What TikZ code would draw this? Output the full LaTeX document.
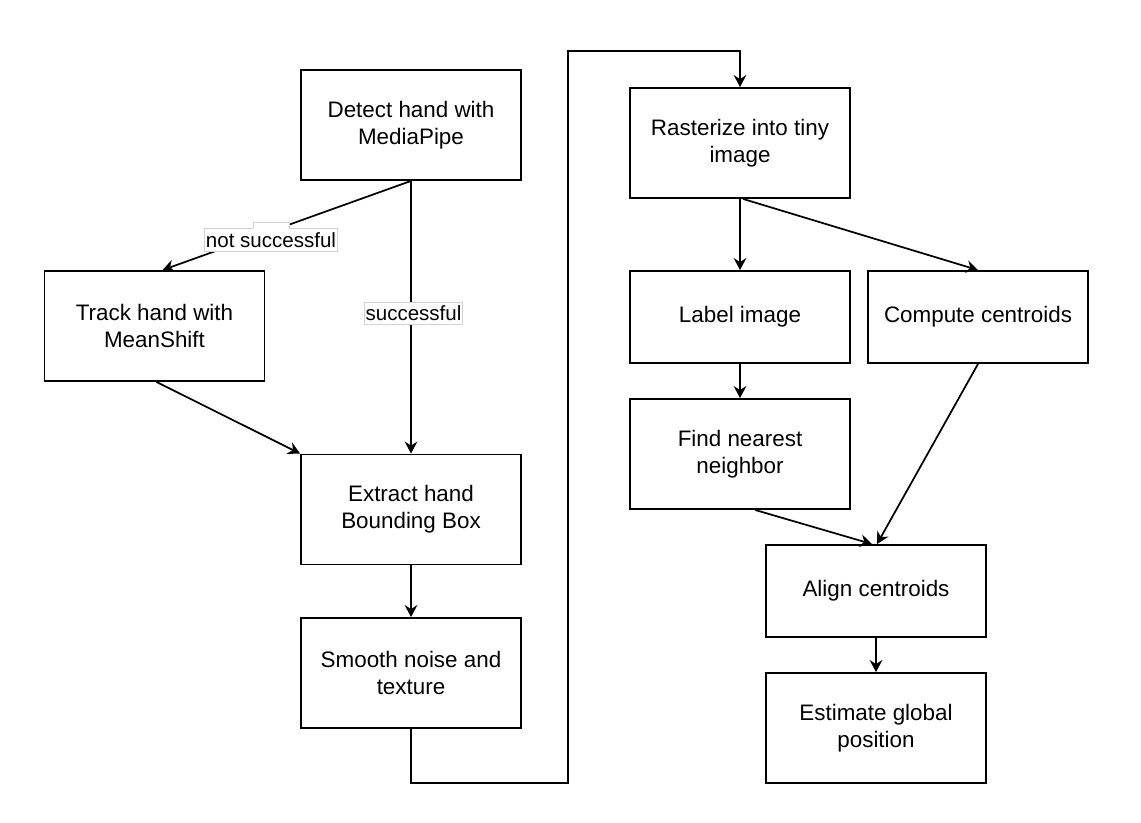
\documentclass[tikz,border=0pt]{standalone}
\usepackage{fontspec}
\setmainfont{Liberation Sans}
\usetikzlibrary{arrows.meta,calc}
\begin{document}
\begin{tikzpicture}[x=0.75pt,y=-0.75pt,
  box/.style={draw=black, line width=1.4pt, fill=white, minimum width=165pt, minimum height=82.5pt,
    align=center, inner sep=2pt, font=\fontsize{16.8}{20.5}\selectfont},
  sbox/.style={box, minimum height=69pt},
  arr/.style={draw=black, line width=1.3pt, -{Stealth[length=9pt,width=9.5pt,inset=3pt]}},
  lab/.style={fill=white, draw=gray!35, line width=0.6pt, inner sep=1pt, minimum height=17pt,
    font=\fontsize{15.4}{18}\selectfont}]
\useasboundingbox (0,0) rectangle (1141,823);

\node[box] (detect) at (411,125) {Detect hand with\\MediaPipe};
\node[box] (track) at (154.5,326) {Track hand with\\MeanShift};
\node[box] (extract) at (411,509.5) {Extract hand\\Bounding Box};
\node[box] (smooth) at (411,673) {Smooth noise and\\texture};
\node[box] (raster) at (740,143) {Rasterize into tiny\\image};
\node[sbox] (labelimg) at (740,317) {Label image};
\node[sbox] (compute) at (978,317) {Compute centroids};
\node[box] (nearest) at (740,454) {Find nearest\\neighbor};
\node[sbox] (align) at (876,591) {Align centroids};
\node[box] (estimate) at (876,728) {Estimate global\\position};

\coordinate (c1) at (568,783);
\coordinate (c2) at (568,51);

% edges
\draw[arr] (detect.south) -- ($(track.north)+(8,0)$);
\draw[arr] (detect.south) -- (extract.north);
\draw[arr] ($(track.south)+(2,0)$) -- (extract.north west);
\draw[arr] (extract.south) -- (smooth.north);
\draw[arr] (smooth.south) |- (c1) -- (c2) -| (raster.north);
\draw[arr] (raster.south) -- (labelimg.north);
\draw[arr] ($(raster.south)+(3,0)$) -- (compute.north);
\draw[arr] (labelimg.south) -- (nearest.north);
\draw[arr] ($(nearest.south)+(15,0)$) -- ($(align.north)+(-4,0)$);
\draw[arr] (compute.south) -- ($(align.north)+(1,0)$);
\draw[arr] (align.south) -- (estimate.north);

% edge labels
\node[lab] (lns) at (271,240) {not successful};
\fill[white] (253,222.5) rectangle (289,229);
\draw[gray!35, line width=0.6pt] (253,228.3) -- (253,222.5) -- (289,222.5) -- (289,228.3);
\node[lab] (ls) at (413.5,313.5) {successful};
\end{tikzpicture}
\end{document}
